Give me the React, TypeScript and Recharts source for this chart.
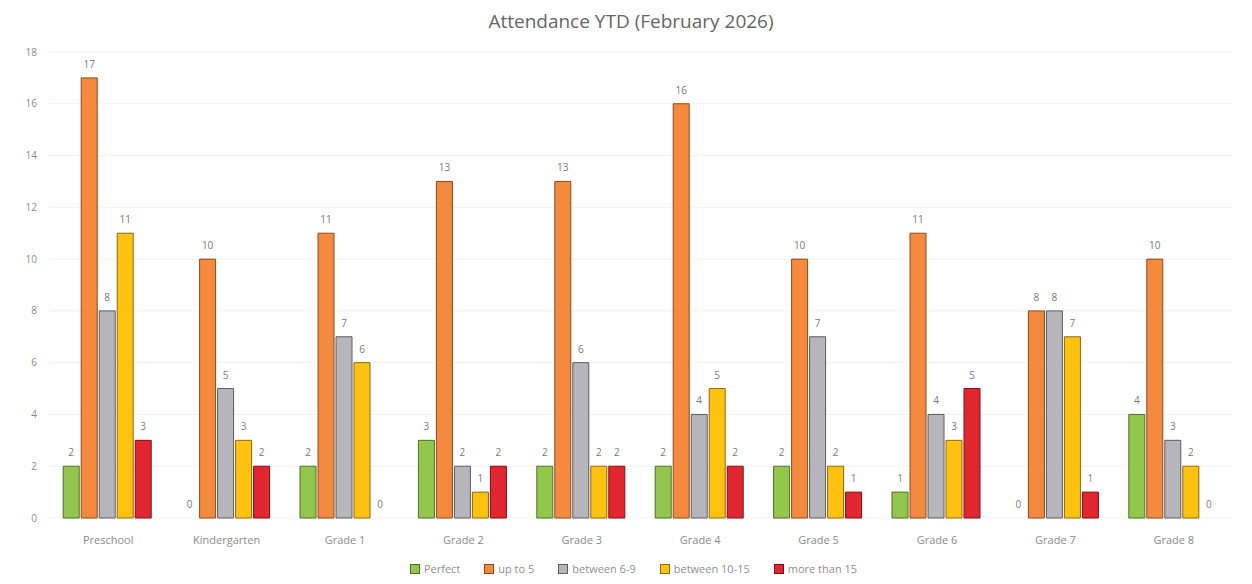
import React from "react";
import { BarChart, Bar, XAxis, YAxis, CartesianGrid, Legend, LabelList, Rectangle } from "recharts";

const categories = ["Preschool", "Kindergarten", "Grade 1", "Grade 2", "Grade 3", "Grade 4", "Grade 5", "Grade 6", "Grade 7", "Grade 8"];
const perfect = [2, 0, 2, 3, 2, 2, 2, 1, 0, 4];
const upTo5 = [17, 10, 11, 13, 13, 16, 10, 11, 8, 10];
const between6to9 = [8, 5, 7, 2, 6, 4, 7, 4, 8, 3];
const between10to15 = [11, 3, 6, 1, 2, 5, 2, 3, 7, 2];
const moreThan15 = [3, 2, 0, 2, 2, 2, 1, 5, 1, 0];
const yTicks = [0, 2, 4, 6, 8, 10, 12, 14, 16, 18];

const series = [
  { key: "perfect", name: "Perfect", values: perfect, fill: "#92c64c", stroke: "#4f6f28" },
  { key: "upTo5", name: "up to 5", values: upTo5, fill: "#f48a3e", stroke: "#8a4a1c" },
  { key: "b69", name: "between 6-9", values: between6to9, fill: "#b5b5bb", stroke: "#5c5c62" },
  { key: "b1015", name: "between 10-15", values: between10to15, fill: "#ffc211", stroke: "#8a6a10" },
  { key: "m15", name: "more than 15", values: moreThan15, fill: "#e2262f", stroke: "#7a1015" },
];

const data = categories.map((c, i) => {
  const row: any = { category: c };
  series.forEach((s) => (row[s.key] = s.values[i]));
  return row;
});

const FONT = "'Open Sans', 'Noto Sans', sans-serif";

const LegendContent = () => (
  <div style={{ display: "flex", justifyContent: "center", alignItems: "center", fontFamily: FONT, fontSize: 11, color: "#8f8f8f", paddingLeft: 58 }}>
    {series.map((s) => (
      <div key={s.key} style={{ display: "flex", alignItems: "center", marginRight: 24 }}>
        <span style={{ display: "inline-block", width: 8, height: 8, background: s.fill, border: `1px solid ${s.stroke}`, marginRight: 4 }} />
        <span>{s.name}</span>
      </div>
    ))}
  </div>
);

const BarShape = (props: any) => {
  const { value, height } = props;
  const v = Array.isArray(value) ? value[1] - value[0] : value;
  if (!v || Math.abs(height) < 1) return <g />;
  return <Rectangle {...props} />;
};

export default function App() {
  return (
    <div style={{ position: "relative", width: 1252, height: 584, background: "#fff" }}>
      <style>{"body{margin:0}"}</style>
      <div style={{ position: "absolute", top: 8, left: 0, width: 1262, textAlign: "center", fontFamily: FONT, fontSize: 19, color: "#666" }}>
        Attendance YTD (February 2026)
      </div>
      <BarChart width={1252} height={584} data={data} margin={{ top: 52, right: 19, left: 0, bottom: 5 }} barCategoryGap="12%" barGap={2}>
        <CartesianGrid vertical={false} stroke="#f1f1f1" />
        <XAxis dataKey="category" axisLine={false} tickLine={false} tickMargin={12} height={43} tick={{ fontFamily: FONT, fontSize: 11, fill: "#8a8a8a" }} interval={0} />
        <YAxis domain={[0, 18]} ticks={yTicks} axisLine={false} tickLine={false} width={49} tickMargin={6} tick={{ fontFamily: FONT, fontSize: 10, fill: "#8a8a8a" }} />
        <Legend verticalAlign="bottom" height={18} content={<LegendContent />} />
        {series.map((s) => (
          <Bar key={s.key} dataKey={s.key} name={s.name} fill={s.fill} stroke={s.stroke} strokeWidth={1} isAnimationActive={false} minPointSize={0.01} shape={<BarShape />}>
            <LabelList dataKey={s.key} position="top" offset={10} style={{ fontFamily: FONT, fontSize: 10, fill: "#7a7a7a" }} />
          </Bar>
        ))}
      </BarChart>
    </div>
  );
}
